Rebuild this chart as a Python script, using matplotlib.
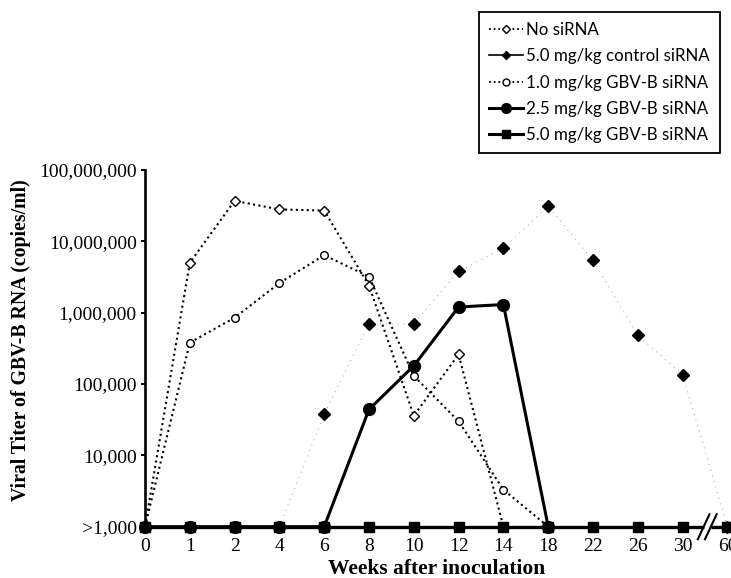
import numpy as np
import matplotlib
matplotlib.use("Agg")
import matplotlib.pyplot as plt
from matplotlib.lines import Line2D
from matplotlib.transforms import blended_transform_factory
from matplotlib.ticker import FixedLocator, FixedFormatter

nan = np.nan

# weeks after inoculation, drawn as evenly spaced categories
weeks = ["0", "1", "2", "4", "6", "8", "10", "12", "14", "18", "22", "26", "30", "60"]

no_sirna = [1e3, 5.0e6, 3.7e7, 2.8e7, 2.7e7, 2.4e6, 3.6e4, 2.6e5, 1e3,
            nan, nan, nan, nan, nan]
control_50 = [1e3, 1e3, 1e3, 1e3, 3.8e4, 7.0e5, 7.0e5, 3.8e6, 8.0e6,
              3.1e7, 5.4e6, 4.8e5, 1.35e5, 1e3]
gbvb_10 = [1e3, 3.8e5, 8.5e5, 2.6e6, 6.4e6, 3.2e6, 1.3e5, 3.0e4, 3.3e3,
           1e3, nan, nan, nan, nan]
gbvb_25 = [1e3, 1e3, 1e3, 1e3, 1e3, 4.4e4, 1.8e5, 1.2e6, 1.3e6,
           1e3, nan, nan, nan, nan]
gbvb_50 = [1e3] * 14

ytick_vals = [1e3, 1e4, 1e5, 1e6, 1e7, 1e8]
ytick_labels = [">1,000", "10,000", "100,000", "1,000,000", "10,000,000", "100,000,000"]

labels = ["No siRNA", "5.0 mg/kg control siRNA", "1.0 mg/kg GBV-B siRNA",
          "2.5 mg/kg GBV-B siRNA", "5.0 mg/kg GBV-B siRNA"]

serif = "Liberation Serif"
x = np.arange(len(weeks))

fig = plt.figure(figsize=(7.31, 5.78), dpi=100)
ax = fig.add_axes([145 / 731, 0.0888, 586 / 731, 0.6171])

dots = (0, (1, 1.6))

ax.plot(x, control_50, color="#a0a0a0", lw=0.7, ls=(0, (1, 5)), zorder=2, clip_on=False)
ax.plot(x, control_50, ls="none", marker="D", ms=6, color="black", zorder=3, clip_on=False)

ax.plot(x, no_sirna, color="black", lw=1.5, ls=dots, marker="D", ms=5,
        mfc="white", mec="black", mew=1, zorder=4, clip_on=False)
ax.plot(x, gbvb_10, color="black", lw=1.5, ls=dots, marker="o", ms=5.5,
        mfc="white", mec="black", mew=1, zorder=4, clip_on=False)

ax.plot(x, gbvb_25, color="black", lw=2.2, marker="o", ms=8.5, zorder=5, clip_on=False)
ax.plot(x, gbvb_50, color="black", lw=2.4, marker="s", ms=7.5, zorder=6, clip_on=False)

ax.set_yscale("log")
ax.set_ylim(1e3, 1e8)
ax.set_xlim(0, 13.08)

ax.yaxis.set_major_locator(FixedLocator(ytick_vals))
ax.yaxis.set_major_formatter(FixedFormatter(ytick_labels))
ax.yaxis.set_minor_locator(FixedLocator([]))
ax.set_xticks(x)
ax.set_xticklabels(weeks)

for s in ["top", "right", "bottom"]:
    ax.spines[s].set_visible(False)
ax.spines["left"].set_linewidth(1.9)

ax.tick_params(axis="y", length=3, width=1.4, pad=3, labelsize=14)
ax.tick_params(axis="x", length=0, pad=8, labelsize=14)
for t in ax.get_xticklabels() + ax.get_yticklabels():
    t.set_fontfamily(serif)

ax.set_xlabel("Weeks after inoculation", fontfamily=serif, fontweight="bold", fontsize=15.5)
ax.set_ylabel("Viral Titer of GBV-B RNA (copies/ml)", fontfamily=serif,
              fontweight="bold", fontsize=14.2)
ax.xaxis.set_label_coords(0.497, -0.092)
ax.yaxis.set_label_coords(-0.195, 0.523)

# axis break between 30 and 60
tr = blended_transform_factory(ax.transData, ax.transAxes)
xb = (x[-2] + x[-1]) / 2 + 0.05
ax.plot([xb - 0.08, xb + 0.08], [0, 0], color="white", lw=5, transform=tr,
        zorder=7, clip_on=False, solid_capstyle="butt")
for dx in (-0.08, 0.08):
    ax.plot([xb + dx - 0.13, xb + dx + 0.13], [-0.035, 0.035], color="black",
            lw=1.5, transform=tr, zorder=8, clip_on=False)

handles = [
    Line2D([], [], color="black", lw=1.3, ls=dots, marker="D", ms=4.5, mfc="white", mec="black"),
    Line2D([], [], color="black", lw=1.2, marker="D", ms=4),
    Line2D([], [], color="black", lw=1.3, ls=dots, marker="o", ms=5, mfc="white", mec="black"),
    Line2D([], [], color="black", lw=2.2, marker="o", ms=7),
    Line2D([], [], color="black", lw=2.2, marker="s", ms=6),
]
leg = fig.legend(handles, labels, loc="upper right", bbox_to_anchor=(720 / 731, 1 - 12 / 578),
                 frameon=True, fancybox=False, edgecolor="black", framealpha=1,
                 prop={"family": "Lato", "size": 12.2}, handlelength=2.0,
                 handletextpad=0.2, labelspacing=0.6, borderpad=0.6, borderaxespad=0)
leg.get_frame().set_linewidth(1.3)

fig.savefig("out.png", dpi=100)
